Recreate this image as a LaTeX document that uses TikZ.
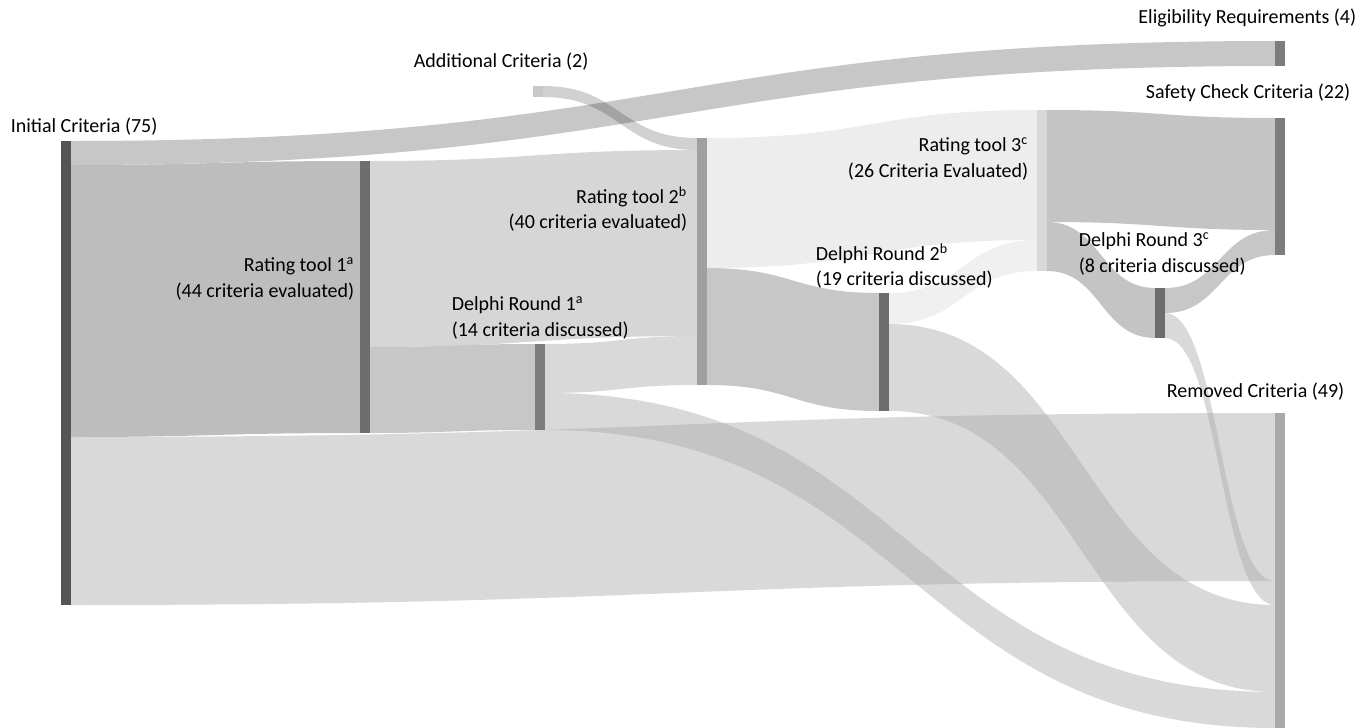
\documentclass[tikz,border=0pt]{standalone}
\usepackage{fontspec}
\setmainfont{Carlito}
\usetikzlibrary{calc}

\definecolor{barIni}{RGB}{85,85,85}
\definecolor{barRtOne}{RGB}{109,109,109}
\definecolor{barDelphi}{RGB}{125,125,125}
\definecolor{barRtTwo}{RGB}{160,160,160}
\definecolor{barRtThree}{RGB}{216,216,216}
\definecolor{barAdd}{RGB}{200,200,200}
\definecolor{barRem}{RGB}{169,169,169}
\definecolor{cutgray}{RGB}{170,170,170}

\tikzset{every picture/.style={line width=0.75pt}}
\tikzset{
  stage/.style={rectangle, inner sep=0pt, outer sep=0pt, minimum width=5pt, anchor=north west},
  lbl/.style={inner sep=0pt, font=\fontsize{10}{12.75}\selectfont},
  cutflow/.style={fill=cutgray, fill opacity=0.45},
}

% band from #1 (offsets #2..#3 down from its top) to #4 (offsets #5..#6), style #7
\newcommand{\band}[7]{%
  \fill[#7] let \p1=([yshift={(#2)*0.5pt}]#1.north east),
                \p2=([yshift={(#3)*0.5pt}]#1.north east),
                \p3=([yshift={(#5)*0.5pt}]#4.north west),
                \p4=([yshift={(#6)*0.5pt}]#4.north west),
                \n1={(\x1+\x3)/2} in
    (\p1) .. controls (\n1,\y1) and (\n1,\y3) .. (\p3) -- (\p4)
    .. controls (\n1,\y4) and (\n1,\y2) .. (\p2) -- cycle;}

\begin{document}
\begin{tikzpicture}[x=0.5pt,y=0.5pt,yscale=-1,xscale=1]
\useasboundingbox (0,0) rectangle (1371,728);

%Shape: Stages
\node[stage, minimum height=232pt] (ini) at (61,141) {};
\node[stage, minimum height=136pt] (rt1) at (360,161) {};
\node[stage, minimum height=43pt] (d1) at (535,344) {};
\node[stage, minimum height=5.5pt] (add) at (533,86) {};
\node[stage, minimum height=123.5pt] (rt2) at (697,138) {};
\node[stage, minimum height=59pt] (d2) at (879,293) {};
\node[stage, minimum height=80.5pt] (rt3) at (1037,110) {};
\node[stage, minimum height=25pt] (d3) at (1155,288) {};
\node[stage, minimum height=12.5pt] (elig) at (1275,41) {};
\node[stage, minimum height=68.5pt] (safe) at (1275,118) {};
\node[stage, minimum height=157.5pt] (rem) at (1275,413) {};

%Shape: Bands
\band{ini}{0}{24}{elig}{0}{25}{fill=black!22}
\band{add}{0}{11}{rt2}{0}{12}{fill=black, fill opacity=0.18}
\band{ini}{24}{296}{rt1}{0}{272}{fill=black!26}
\band{rt1}{0}{186}{rt2}{12}{198}{fill=black!16}
\band{rt1}{186}{272}{d1}{0}{86}{fill=black!22}
\band{d1}{0}{49}{rt2}{198}{247}{fill=black!15}
\band{rt2}{0}{130}{rt3}{0}{130}{fill=black!7}
\band{rt2}{130}{247}{d2}{0}{118}{fill=black!22}
\band{d2}{0}{31}{rt3}{130}{161}{fill=black!6}
\band{rt3}{0}{112}{safe}{0}{112}{fill=black!23}
\band{rt3}{112}{161}{d3}{0}{50}{fill=black!23}
\band{d3}{0}{25}{safe}{112}{137}{fill=black!22}
\band{ini}{296}{464}{rem}{0}{168}{cutflow}
\band{d1}{49}{86}{rem}{279}{315}{cutflow}
\band{d2}{31}{118}{rem}{192}{279}{cutflow}
\band{d3}{25}{50}{rem}{168}{192}{cutflow}

%Shape: stage bars on top of bands
\foreach \s/\c in {ini/barIni,rt1/barRtOne,d1/barDelphi,add/barAdd,rt2/barRtTwo,d2/barRtOne,rt3/barRtThree,d3/barRtOne,elig/barDelphi,safe/barDelphi,rem/barRem}
  \fill[\c] (\s.north west) rectangle (\s.south east);

% Text Node
\node[lbl, anchor=west] (tIni) at (10,127) {Initial Criteria (75)};
% Text Node
\node[lbl, anchor=west] (tAdd) at (413,62) {Additional Criteria (2)};
% Text Node
\node[lbl, anchor=east] (tElig) at (1357,18) {Eligibility Requirements (4)};
% Text Node
\node[lbl, anchor=east] (tSafe) at (1351,93) {Safety Check Criteria (22)};
% Text Node
\node[lbl, anchor=east] (tRem) at (1345,392) {Removed Criteria (49)};
% Text Node
\node[lbl, anchor=east, align=right] (tRt1) at (355,279) {Rating tool 1\textsuperscript{a}\\(44 criteria evaluated)};
% Text Node
\node[lbl, anchor=east, align=right] (tRt2) at (688,209) {Rating tool 2\textsuperscript{b}\\(40 criteria evaluated)};
% Text Node
\node[lbl, anchor=east, align=right] (tRt3) at (1029,159) {Rating tool 3\textsuperscript{c}\\(26 Criteria Evaluated)};
% Text Node
\node[lbl, anchor=west, align=left] (tD1) at (451,318) {Delphi Round 1\textsuperscript{a}\\(14 criteria discussed)};
% Text Node
\node[lbl, anchor=west, align=left] (tD2) at (815,266) {Delphi Round 2\textsuperscript{b}\\(19 criteria discussed)};
% Text Node
\node[lbl, anchor=west, align=left] (tD3) at (1078,254) {Delphi Round 3\textsuperscript{c}\\(8 criteria discussed)};

\end{tikzpicture}
\end{document}
